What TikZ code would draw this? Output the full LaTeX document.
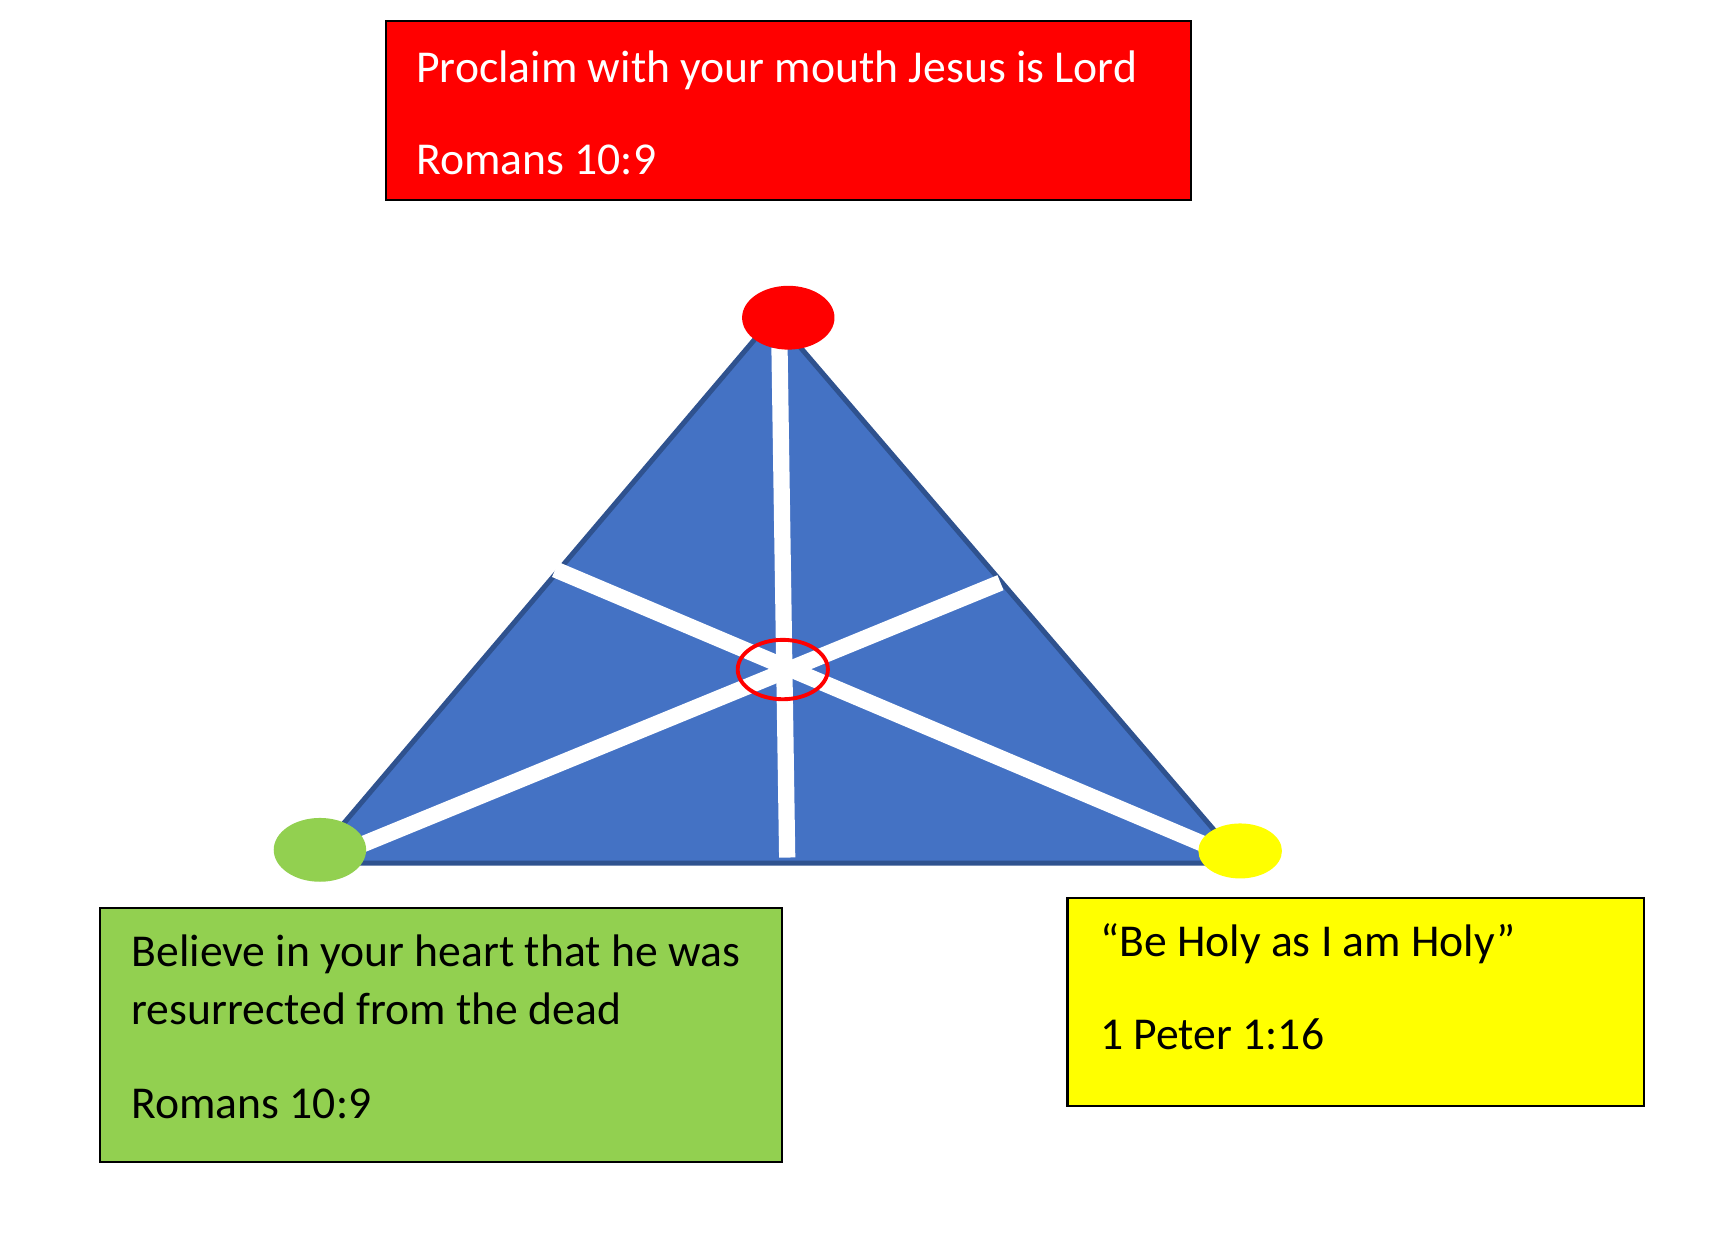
\documentclass[tikz,border=0pt]{standalone}
\usepackage{fontspec}
\setmainfont{Carlito}
\usepackage{tikz}
\usetikzlibrary{shapes.geometric}

\definecolor{triblue}{HTML}{4472C4}
\definecolor{triedge}{HTML}{2F528F}
\definecolor{leafgreen}{HTML}{92D050}
\definecolor{lemon}{HTML}{FFFF00}

\begin{document}
\begin{tikzpicture}[x=0.01cm,y=-0.01cm,
  font=\fontsize{11.8}{14}\selectfont,
  card/.style={draw=black, line width=0.6pt, anchor=north west, inner sep=0pt},
  dot/.style={ellipse, inner sep=0pt, draw=none},
  cross/.style={white, line width=4.2pt},
  txt/.style={anchor=base west, inner sep=0pt}]
\useasboundingbox (0,0) rectangle (1569,1125);

% cards
\node[card, fill=red, minimum width=7.32cm, minimum height=1.63cm] (proclaim) at (350,18) {};
\node[txt, text=white] (proclaimtxt) at (378,75) {Proclaim with your mouth Jesus is Lord};
\node[txt, text=white] (proclaimref) at (378,159) {Romans 10:9};

\node[card, fill=leafgreen, minimum width=6.20cm, minimum height=2.31cm] (believe) at (90,825) {};
\node[txt] (believetxt) at (119,879) {Believe in your heart that he was};
\node[txt] (believetxtb) at (119,932) {resurrected from the dead};
\node[txt] (believeref) at (119,1017) {Romans 10:9};

\node[card, fill=lemon, minimum width=5.24cm, minimum height=1.89cm] (holy) at (970,816) {};
\node[txt] (holytxt) at (1000,870) {“Be Holy as I am Holy”};
\node[txt] (holyref) at (1000,955) {1 Peter 1:16};

% triangle
\coordinate (apex) at (704,288);
\coordinate (bl) at (282,785);
\coordinate (br) at (1130,785);
\draw[triedge, fill=triblue, line width=1.3pt] (apex) -- (bl) -- (br) -- cycle;

% white bars
\coordinate (vtop) at (709,316);
\coordinate (vbot) at (716,780);
\coordinate (la) at (505,518);
\coordinate (lb) at (1100,770);
\coordinate (ra) at (320,772);
\coordinate (rb) at (910,530);
\draw[cross] (vtop) -- (vbot);
\draw[cross] (la) -- (lb);
\draw[cross] (ra) -- (rb);

% centre ring
\node[dot, draw=red, line width=1pt, minimum width=0.82cm, minimum height=0.54cm] (centre) at (712,609) {};

% corner dots
\node[dot, fill=red, minimum width=0.84cm, minimum height=0.58cm] (topdot) at (717,289) {};
\node[dot, fill=leafgreen, minimum width=0.84cm, minimum height=0.58cm] (leftdot) at (291,773) {};
\node[dot, fill=lemon, minimum width=0.76cm, minimum height=0.50cm] (rightdot) at (1128,774) {};
\end{tikzpicture}
\end{document}
